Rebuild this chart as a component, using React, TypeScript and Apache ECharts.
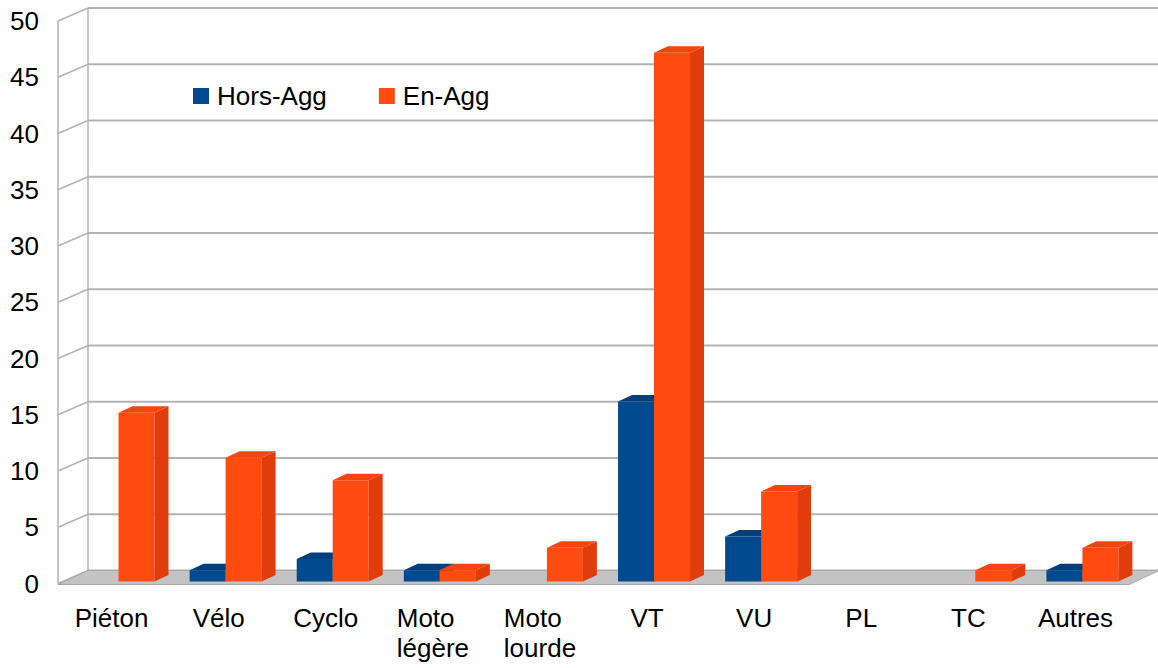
import React, { useEffect, useRef } from "react";
import * as echarts from "echarts";

const categories = ["Piéton", "Vélo", "Cyclo", "Moto\nlégère", "Moto\nlourde", "VT", "VU", "PL", "TC", "Autres"];
const horsAgg = [0, 1, 2, 1, 0, 16, 4, 0, 0, 1];
const enAgg = [15, 11, 9, 1, 3, 47, 8, 0, 1, 3];
const seriesNames = ["Hors-Agg", "En-Agg"];

const FONT = "'Liberation Sans', Arial, sans-serif";
const BLUE = { front: "#014a8f", side: "#003a70", top: "#003f7c" };
const ORANGE = { front: "#ff4a10", side: "#e03c0c", top: "#f5440e" };
const GRID_COLOR = "#b3b3b3";
const FLOOR_COLOR = "#c3c3c3";
// wall depth offsets (px)
const DX = 30;
const DY = -13;
// bar depth offsets (px)
const BDX = 14;
const BDY = -6.5;

function makeBarRender(pos: "left" | "right", col: { front: string; side: string; top: string }) {
  return (params: any, api: any) => {
    const i = api.value(0);
    const v = api.value(1);
    if (!v) return { type: "group", children: [] };
    const band = api.size([1, 0])[0];
    const c = api.coord([i, 0])[0] + band * 0.065;
    const w = band * 0.336;
    const x0 = pos === "left" ? c - w : c;
    const x1 = x0 + w;
    const yb = api.coord([i, 0])[1] - 2;
    const yt = api.coord([i, v])[1] - 2;
    return {
      type: "group",
      children: [
        { type: "polygon", shape: { points: [[x0, yb], [x1, yb], [x1, yt], [x0, yt]] }, style: { fill: col.front } },
        {
          type: "polygon",
          shape: { points: [[x1, yb], [x1 + BDX, yb + BDY], [x1 + BDX, yt + BDY], [x1, yt]] },
          style: { fill: col.side },
        },
        {
          type: "polygon",
          shape: { points: [[x0, yt], [x1, yt], [x1 + BDX, yt + BDY], [x0 + BDX, yt + BDY]] },
          style: { fill: col.top },
        },
      ],
    };
  };
}

function wallsRender(params: any, api: any) {
  const cs = params.coordSys;
  const left = cs.x;
  const right = cs.x + cs.width;
  const children: any[] = [];
  const y0 = api.coord([0, 0])[1];
  const y50 = api.coord([0, 50])[1];
  children.push({ type: "line", shape: { x1: left, y1: y50, x2: left, y2: y0 + 1 }, style: { stroke: GRID_COLOR, lineWidth: 1.5 } });
  children.push({ type: "line", shape: { x1: left + DX, y1: y50 + DY, x2: left + DX, y2: y0 + DY }, style: { stroke: GRID_COLOR, lineWidth: 1.5 } });
  for (let v = 0; v <= 50; v += 5) {
    const yf = api.coord([0, v])[1];
    children.push({ type: "line", shape: { x1: left, y1: yf, x2: left + DX, y2: yf + DY }, style: { stroke: GRID_COLOR, lineWidth: 1.5 } });
    children.push({ type: "line", shape: { x1: left + DX, y1: yf + DY, x2: right + DX, y2: yf + DY }, style: { stroke: GRID_COLOR, lineWidth: 1.8 } });
  }
  children.push({
    type: "polygon",
    shape: { points: [[left, y0 + 1], [right, y0 + 1], [right + DX, y0 + DY], [left + DX, y0 + DY]] },
    style: { fill: FLOOR_COLOR, stroke: "#a8a8a8", lineWidth: 1 },
  });
  return { type: "group", children };
}

export default function App() {
  const ref = useRef<HTMLDivElement>(null);
  useEffect(() => {
    if (!ref.current) return;
    const chart = echarts.init(ref.current, undefined, { renderer: "svg" });
    chart.setOption({
      animation: false,
      backgroundColor: "#ffffff",
      textStyle: { fontFamily: FONT },
      grid: { left: 58, right: 29, top: 21, bottom: 84.5 },
      legend: {
        data: seriesNames,
        left: 188,
        top: 78,
        icon: "rect",
        itemWidth: 16,
        itemHeight: 16,
        itemGap: 52,
        textStyle: { fontSize: 26, color: "#000", fontFamily: FONT, padding: [0, 0, 0, 3] },
      },
      xAxis: {
        type: "category",
        data: categories,
        axisLine: { show: false },
        axisTick: { show: false },
        splitLine: { show: false },
        axisLabel: {
          interval: 0,
          margin: 19,
          formatter: (v: string) => v.split("\n").map((s) => `{l|${s}}`).join("\n"),
          rich: { l: { align: "left", fontSize: 26, lineHeight: 30, color: "#000", fontFamily: FONT } },
        },
      },
      yAxis: {
        type: "value",
        min: 0,
        max: 50,
        interval: 5,
        axisLine: { show: false },
        axisTick: { show: false },
        splitLine: { show: false },
        axisLabel: { fontSize: 26, color: "#000", margin: 19, fontFamily: FONT },
      },
      series: [
        {
          type: "custom",
          name: "walls",
          renderItem: wallsRender,
          data: [[0, 0]],
          encode: { x: 0, y: 1 },
          clip: false,
          silent: true,
          z: 1,
        },
        {
          type: "custom",
          name: seriesNames[0],
          renderItem: makeBarRender("left", BLUE),
          data: horsAgg.map((v, i) => [i, v]),
          encode: { x: 0, y: 1 },
          itemStyle: { color: BLUE.front },
          clip: false,
          z: 2,
        },
        {
          type: "custom",
          name: seriesNames[1],
          renderItem: makeBarRender("right", ORANGE),
          data: enAgg.map((v, i) => [i, v]),
          encode: { x: 0, y: 1 },
          itemStyle: { color: ORANGE.front },
          clip: false,
          z: 3,
        },
      ],
    });
    return () => chart.dispose();
  }, []);
  return <div ref={ref} style={{ position: "fixed", left: 0, top: 0, width: 1158, height: 668 }} />;
}
